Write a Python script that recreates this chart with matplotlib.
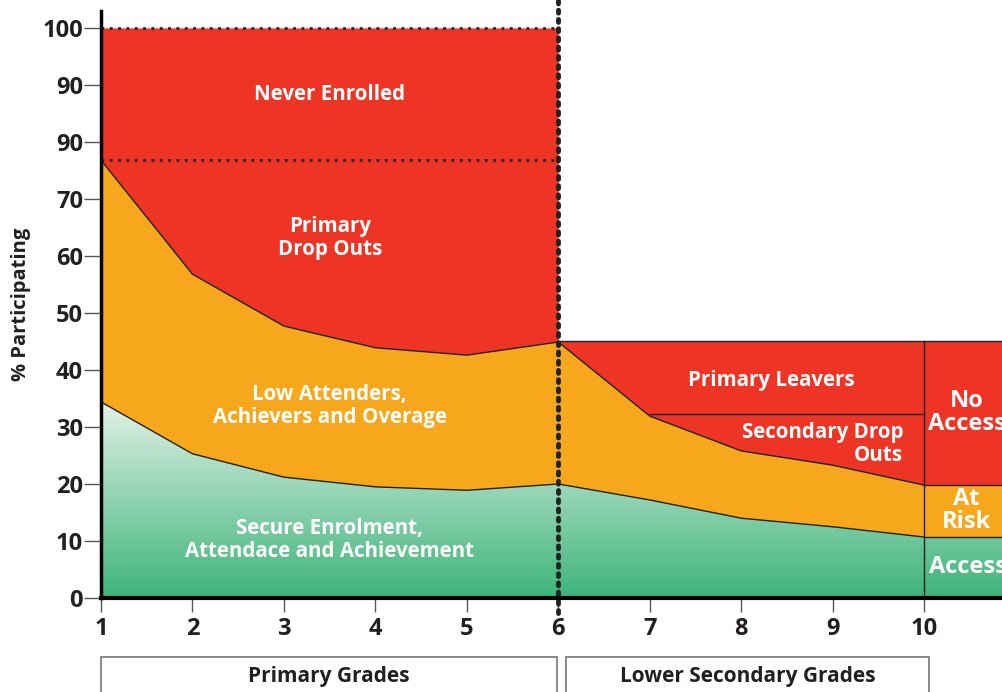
import matplotlib
matplotlib.use("Agg")
import matplotlib.pyplot as plt
import matplotlib.transforms as mtransforms
from matplotlib.patches import Rectangle
from matplotlib.colors import LinearSegmentedColormap
import numpy as np

plt.rcParams['font.family'] = ['Open Sans', 'DejaVu Sans']
plt.rcParams['font.weight'] = 'bold'

# data
grades_primary = [1, 2, 3, 4, 5, 6]
low_top_primary = [76.8, 56.8, 47.7, 43.9, 42.6, 44.9]
secure_top_primary = [34.4, 25.3, 21.2, 19.5, 18.9, 20.0]

grades_secondary = [6, 7, 8, 9, 10]
low_top_secondary = [44.9, 31.9, 25.8, 23.3, 19.8]
secure_top_secondary = [20.0, 17.2, 14.0, 12.5, 10.7]

secondary_total = 45.0
leavers_floor = 32.3
never_enrolled_floor = 76.8

ytick_vals = [0, 10, 20, 30, 40, 50, 60, 70, 80, 90, 100]
ytick_labels = ['0', '10', '20', '30', '40', '50', '60', '70', '90', '90', '100']
xtick_vals = [1, 2, 3, 4, 5, 6, 7, 8, 9, 10]

RED = '#EE3424'
ORANGE = '#F6A71C'
X_END = 10.85

fig = plt.figure(figsize=(10.02, 6.92), dpi=100)
ax = fig.add_axes([0.1008, 0.1358, 0.8992, 0.8486])
ax.set_xlim(1, X_END)
ax.set_ylim(0, 103)

# primary block
ax.fill_between(grades_primary, low_top_primary, 100, color=RED, lw=0)
ax.fill_between(grades_primary, secure_top_primary, low_top_primary, color=ORANGE, lw=0)
# secondary block
ax.fill_between(grades_secondary, low_top_secondary, secondary_total, color=RED, lw=0)
ax.fill_between(grades_secondary, secure_top_secondary, low_top_secondary, color=ORANGE, lw=0)
# right block (grade 10 outcome)
g10_low = low_top_secondary[-1]
g10_sec = secure_top_secondary[-1]
ax.fill_between([10, X_END], g10_low, secondary_total, color=RED, lw=0)
ax.fill_between([10, X_END], g10_sec, g10_low, color=ORANGE, lw=0)

# green gradient region
gx = grades_primary + grades_secondary[1:] + [X_END]
gy = secure_top_primary + secure_top_secondary[1:] + [g10_sec]
clip = ax.fill_between(gx, 0, gy, facecolor='none', lw=0)
cmap = LinearSegmentedColormap.from_list('g', ['#3DB47A', '#E9F4EC'])
grad = np.linspace(0, 1, 256).reshape(-1, 1)
im = ax.imshow(grad, extent=(1, X_END, 0, 36), origin='lower', cmap=cmap,
               aspect='auto', zorder=1)
im.set_clip_path(clip.get_paths()[0], ax.transData)

# boundary lines
lw = 1.0
ax.plot(grades_primary, low_top_primary, color='#222222', lw=lw, zorder=3)
ax.plot(grades_primary, secure_top_primary, color='#222222', lw=lw, zorder=3)
ax.plot(grades_secondary, low_top_secondary, color='#222222', lw=lw, zorder=3)
ax.plot(grades_secondary, secure_top_secondary, color='#222222', lw=lw, zorder=3)
ax.plot([6, X_END], [secondary_total, secondary_total], color='#222222', lw=lw, zorder=3)
ax.plot([7, 10], [leavers_floor, leavers_floor], color='#222222', lw=lw, zorder=3)
ax.plot([10, X_END], [g10_low, g10_low], color='#222222', lw=lw, zorder=3)
ax.plot([10, X_END], [g10_sec, g10_sec], color='#222222', lw=lw, zorder=3)
ax.plot([10, 10], [0, secondary_total], color='#222222', lw=lw, zorder=3)

# dotted lines
ax.plot([1, 6], [100, 100], color='#222222', lw=2, ls=(0, (1, 2)), zorder=4)
ax.plot([1, 6], [never_enrolled_floor, never_enrolled_floor], color='#222222',
        lw=2, ls=(0, (1, 2)), zorder=4)
ax.plot([6, 6], [-2.6, 105], color='#222222', lw=3.5, ls=(0, (0.6, 1.3)),
        dash_capstyle='round', zorder=5, clip_on=False)

# labels inside areas
fs = 14.8
tkw = dict(color='white', fontweight='bold', ha='center', va='center', zorder=6)
ax.text(3.5, 88.4, 'Never Enrolled', fontsize=fs, **tkw)
ax.text(3.5, 63.2, 'Primary\nDrop Outs', fontsize=fs, linespacing=1.15, **tkw)
ax.text(3.5, 33.7, 'Low Attenders,\nAchievers and Overage', fontsize=fs, linespacing=1.15, **tkw)
ax.text(3.5, 10.2, 'Secure Enrolment,\nAttendace and Achievement', fontsize=fs,
        linespacing=1.15, **tkw)
ax.text(8.33, 38.2, 'Primary Leavers', fontsize=fs, **tkw)
ax.text(9.77, 27.0, 'Secondary Drop\nOuts', fontsize=fs, color='white', fontweight='bold',
        ha='right', va='center', multialignment='right', linespacing=1.1, zorder=6)
ax.text(10.47, 32.5, 'No\nAccess', fontsize=17, linespacing=0.95, **tkw)
ax.text(10.46, 15.3, 'At\nRisk', fontsize=17, linespacing=0.95, **tkw)
ax.text(10.05, 5.4, 'Access', fontsize=17, color='white', fontweight='bold',
        ha='left', va='center', zorder=6)

# axes styling
for s in ['top', 'right']:
    ax.spines[s].set_visible(False)
ax.spines['left'].set_linewidth(2.5)
ax.spines['bottom'].set_linewidth(3)
ax.spines['left'].set_zorder(7)
ax.spines['bottom'].set_zorder(7)
ax.set_yticks(ytick_vals)
ax.set_yticklabels(ytick_labels)
ax.set_xticks(xtick_vals)
ax.tick_params(axis='y', length=12, width=1, color='#555555', labelsize=17,
               labelcolor='#231F20', pad=1)
ax.tick_params(axis='x', length=10, width=1, color='#555555', labelsize=17,
               labelcolor='#231F20', pad=4)
for lab in ax.get_xticklabels() + ax.get_yticklabels():
    lab.set_fontweight('bold')
ax.set_ylabel('% Participating', fontsize=14.5, fontweight='bold', color='#231F20',
              labelpad=8)

# grade group boxes under the axis
trans = mtransforms.blended_transform_factory(ax.transData, fig.transFigure)
for x0, x1, name in [(1.0, 5.98, 'Primary Grades'), (6.08, 10.05, 'Lower Secondary Grades')]:
    ax.add_patch(Rectangle((x0, -0.2), x1 - x0, 0.2 + 0.0506, transform=trans,
                           facecolor='white', edgecolor='#777777', lw=1.2, clip_on=False))
    ax.text((x0 + x1) / 2, 0.0217, name, transform=trans, ha='center', va='center',
            fontsize=15, fontweight='bold', color='#231F20')

fig.savefig('out.png', dpi=100)
